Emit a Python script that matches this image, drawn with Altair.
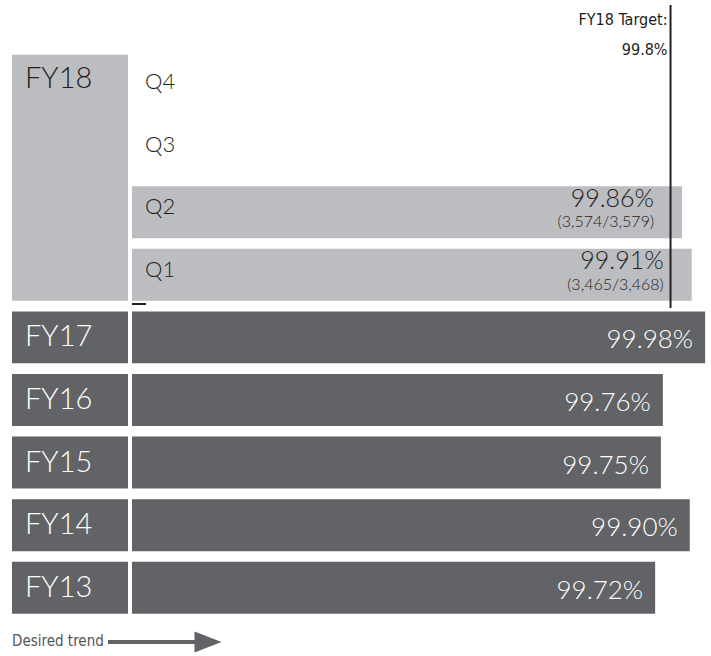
import altair as alt
import pandas as pd

# FY18 quarterly results (Q3/Q4 not yet reported)
quarters = ["Q4", "Q3", "Q2", "Q1"]
quarter_rates = [None, None, 99.86, 99.91]
quarter_passed = [None, None, 3574, 3465]
quarter_total = [None, None, 3579, 3468]

# Prior fiscal years
years = ["FY17", "FY16", "FY15", "FY14", "FY13"]
year_rates = [99.98, 99.76, 99.75, 99.90, 99.72]

target_rate = 99.8
target_label = ["FY18 Target:", "99.8%"]
trend_label = "Desired trend"

X_MIN, X_MAX = 97.0, 100.0
BAND = 0.83  # bar thickness as a share of one row step

LIGHT = "#bcbdc0"
DARK = "#626366"
INK = "#231f20"
FONT = "Lato"
WEIGHT = 300
NARROW = "Liberation Sans Narrow, DejaVu Sans Condensed, sans-serif"

records = []
for i, (q, r, p, t) in enumerate(zip(quarters, quarter_rates, quarter_passed, quarter_total)):
    records.append({
        "label": q, "row": i, "row_end": i + BAND, "kind": "quarter",
        "rate": r,
        "pct": f"{r:.2f}%" if r is not None else "",
        "detail": f"({p:,}/{t:,})" if p is not None else "",
    })
for j, (y, r) in enumerate(zip(years, year_rates)):
    i = len(quarters) + j
    records.append({
        "label": y, "row": i, "row_end": i + BAND, "kind": "year",
        "rate": r, "pct": f"{r:.2f}%", "detail": "",
    })
df = pd.DataFrame(records)

fy18 = pd.DataFrame({"label": ["FY18"], "top": [-0.1], "bottom": [len(quarters) - 1 + BAND]})

x_scale = alt.Scale(domain=[X_MIN, X_MAX], range=[132, 709], nice=False, zero=False)
y_scale = alt.Scale(domain=[-0.974, 9.505], range=[0, 656], nice=False, zero=False)

base = alt.Chart(df)

# Row label boxes
fy18_box = alt.Chart(fy18).mark_rect(color=LIGHT).encode(
    x=alt.value(12), x2=alt.value(128),
    y=alt.Y("top:Q", scale=y_scale, axis=None), y2="bottom:Q",
)
fy18_text = alt.Chart(fy18).transform_calculate(pos="datum.top + 0.39").mark_text(
    align="left", baseline="middle", fontSize=29, font=FONT, fontWeight=WEIGHT, color=INK
).encode(x=alt.value(25), y=alt.Y("pos:Q", scale=y_scale, axis=None), text="label:N")

year_boxes = base.transform_filter("datum.kind == 'year'").mark_rect(color=DARK).encode(
    x=alt.value(12), x2=alt.value(128),
    y=alt.Y("row:Q", scale=y_scale, axis=None), y2="row_end:Q",
)
year_text = base.transform_filter("datum.kind == 'year'").transform_calculate(
    pos=f"datum.row + {BAND / 2}"
).mark_text(align="left", baseline="middle", fontSize=29, font=FONT, fontWeight=WEIGHT, color="white").encode(
    x=alt.value(25), y=alt.Y("pos:Q", scale=y_scale, axis=None), text="label:N"
)

# Bars
bars = base.transform_filter("isValid(datum.rate)").mark_rect().encode(
    x=alt.X("rate:Q", scale=x_scale, axis=None),
    x2=alt.datum(X_MIN),
    y=alt.Y("row:Q", scale=y_scale, axis=None),
    y2="row_end:Q",
    color=alt.Color("kind:N", scale=alt.Scale(domain=["quarter", "year"], range=[LIGHT, DARK]), legend=None),
)

quarter_labels = base.transform_filter("datum.kind == 'quarter'").transform_calculate(
    pos="datum.row + 0.335"
).mark_text(align="left", baseline="middle", fontSize=22, font=FONT, fontWeight=WEIGHT, color=INK).encode(
    x=alt.value(145), y=alt.Y("pos:Q", scale=y_scale, axis=None), text="label:N"
)

quarter_pct = base.transform_filter("datum.kind == 'quarter' && isValid(datum.rate)").transform_calculate(
    pos="datum.row + 0.2"
).mark_text(align="right", baseline="middle", fontSize=25, font=FONT, fontWeight=WEIGHT, color=INK, dx=-28).encode(
    x=alt.X("rate:Q", scale=x_scale, axis=None), y=alt.Y("pos:Q", scale=y_scale, axis=None), text="pct:N"
)
quarter_detail = base.transform_filter("datum.kind == 'quarter' && isValid(datum.rate)").transform_calculate(
    pos="datum.row + 0.575"
).mark_text(align="right", baseline="middle", fontSize=16, font=FONT, fontWeight=WEIGHT, color=INK, dx=-28).encode(
    x=alt.X("rate:Q", scale=x_scale, axis=None), y=alt.Y("pos:Q", scale=y_scale, axis=None), text="detail:N"
)

year_pct = base.transform_filter("datum.kind == 'year'").transform_calculate(
    pos=f"datum.row + {BAND / 2 + 0.05}"
).mark_text(align="right", baseline="middle", fontSize=26, font=FONT, fontWeight=WEIGHT, color="white", dx=-12).encode(
    x=alt.X("rate:Q", scale=x_scale, axis=None), y=alt.Y("pos:Q", scale=y_scale, axis=None), text="pct:N"
)

# Target line and note
target_df = pd.DataFrame({"rate": [target_rate], "note": ["\n".join(target_label)]})
target_rule = alt.Chart(target_df).mark_rule(color=INK, strokeWidth=2).encode(
    x=alt.X("rate:Q", scale=x_scale, axis=None), y=alt.value(5), y2=alt.value(308)
)
target_note = alt.Chart(target_df).mark_text(
    align="right", baseline="top", lineBreak="\n", lineHeight=30, fontSize=16, font=NARROW, color=INK, dx=-3
).encode(x=alt.X("rate:Q", scale=x_scale, axis=None), y=alt.value(12), text="note:N")

# Small tick under the quarterly block
deco = pd.DataFrame({"k": [0]})
tick = alt.Chart(deco).mark_rule(color=INK, strokeWidth=2).encode(
    x=alt.value(132), x2=alt.value(146), y=alt.value(304)
)

# "Desired trend" arrow
trend_text = alt.Chart(pd.DataFrame({"t": [trend_label]})).mark_text(
    align="left", baseline="middle", fontSize=15, font=NARROW, color="#555555"
).encode(x=alt.value(12), y=alt.value(641), text="t:N")
arrow_shaft = alt.Chart(deco).mark_rule(color=DARK, strokeWidth=4).encode(
    x=alt.value(108), x2=alt.value(200), y=alt.value(642)
)
arrow_head = alt.Chart(deco).mark_point(
    shape="M -1 -0.78 L 1 0 L -1 0.78 Z", filled=True, size=729, color=DARK, opacity=1, strokeWidth=0
).encode(x=alt.value(208), y=alt.value(642))

chart = alt.layer(
    fy18_box, fy18_text, year_boxes, year_text, bars, quarter_labels,
    quarter_pct, quarter_detail, year_pct, target_rule, target_note,
    tick, trend_text, arrow_shaft, arrow_head,
).properties(
    width=711, height=656, autosize="none", padding=0
).configure_view(stroke=None)

chart.save("out.html", embed_options={"renderer": "svg", "actions": False})
